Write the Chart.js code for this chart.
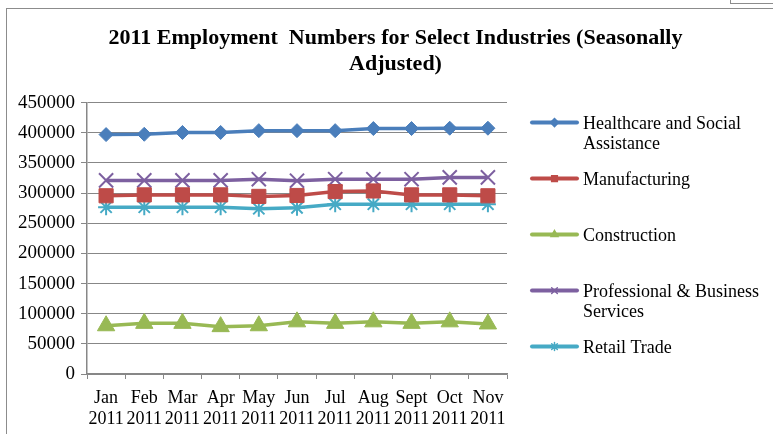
<!DOCTYPE html>
<html>
<head>
<meta charset="utf-8">
<script src="https://cdn.jsdelivr.net/npm/chart.js@4.4.1/dist/chart.umd.min.js"></script>
<style>
  html, body { margin: 0; padding: 0; background: #fff; }
  #wrap { position: relative; width: 773px; height: 436px; overflow: hidden; }
  #frame { position: absolute; left: 6px; top: 8px; width: 800px; height: 425px;
           border-left: 1px solid #8c8c8c; border-top: 1px solid #8c8c8c; }
  #corner { position: absolute; left: 730px; top: -2px; width: 60px; height: 4px;
            border: 1px solid #8c8c8c; }
  canvas { position: absolute; left: 0; top: 0; }
</style>
</head>
<body>
<div id="wrap">
  <div id="frame"></div>
  <div id="corner"></div>
  <canvas id="employmentChart" width="773" height="436"></canvas>
</div>
<script>
// months along the x axis (two lines each)
const months = [
  ['Jan', '2011'], ['Feb', '2011'], ['Mar', '2011'], ['Apr', '2011'],
  ['May', '2011'], ['Jun', '2011'], ['Jul', '2011'], ['Aug', '2011'],
  ['Sept', '2011'], ['Oct', '2011'], ['Nov', '2011']
];

const seriesNames = [
  'Healthcare and Social Assistance',
  'Manufacturing',
  'Construction',
  'Professional & Business Services',
  'Retail Trade'
];

// values
const healthcare = [397000, 397500, 400500, 400500, 403500, 403500, 403500, 407000, 407000, 407500, 407500];
const manufacturing = [295500, 297000, 297000, 297000, 294500, 296000, 302500, 303500, 297000, 297000, 295500];
const construction = [80000, 84000, 84000, 78500, 80000, 86500, 84000, 86500, 84000, 86500, 83000];
const professional = [321000, 321000, 321000, 321000, 323000, 320500, 323000, 323000, 323000, 326000, 326000];
const retail = [276500, 276500, 276500, 276500, 274000, 275500, 281500, 281500, 281500, 281500, 281500];

const yTicks = [0, 50000, 100000, 150000, 200000, 250000, 300000, 350000, 400000, 450000];

const colors = ['#4a7ebb', '#be4b48', '#98b954', '#7d60a0', '#46aac5'];
const pointStyles = ['rectRot', 'rect', 'triangle', 'crossRot', 'star'];
const pointSizes = [7, 10, 10, 10, 8];
const seriesData = [healthcare, manufacturing, construction, professional, retail];

const serif = '"Liberation Serif", "Times New Roman", serif';

// legend on the right, reserved as a layout box
const sideLegend = {
  id: 'sideLegend',
  beforeInit(chart) {
    const box = {
      position: 'right',
      weight: 10,
      fullSize: false,
      options: {},
      left: 0, top: 0, right: 0, bottom: 0, width: 0, height: 0,
      isHorizontal() { return false; },
      getPadding() { return { top: 0, left: 0, right: 0, bottom: 0 }; },
      update(maxWidth, maxHeight) { this.width = 266; this.height = maxHeight; },
      draw() {
        const ctx = chart.ctx;
        const area = chart.chartArea;
        ctx.save();
        ctx.font = '18px ' + serif;
        ctx.fillStyle = '#000';
        ctx.textBaseline = 'middle';
        ctx.textAlign = 'left';
        chart.data.datasets.forEach((ds, i) => {
          const y = area.top + 20 + i * 56;
          const x0 = this.left + 25;
          const x1 = this.left + 70;
          ctx.strokeStyle = ds.borderColor;
          ctx.lineWidth = 4;
          ctx.lineCap = 'round';
          ctx.beginPath();
          ctx.moveTo(x0, y);
          ctx.lineTo(x1, y);
          ctx.stroke();
          if (Chart.helpers && Chart.helpers.drawPoint) {
            ctx.fillStyle = ds.pointBackgroundColor;
            ctx.strokeStyle = ds.pointBorderColor;
            ctx.lineWidth = 1.5;
            Chart.helpers.drawPoint(ctx, { pointStyle: ds.pointStyle, radius: 4, rotation: 0, borderWidth: 1.5 }, (x0 + x1) / 2, y);
          }
          ctx.fillStyle = '#000';
          const words = ds.label.split(' ');
          const lines = [];
          let cur = '';
          words.forEach(w => {
            const test = cur ? cur + ' ' + w : w;
            if (ctx.measureText(test).width > 182 && cur) { lines.push(cur); cur = w; }
            else cur = test;
          });
          lines.push(cur);
          lines.forEach((ln, k) => ctx.fillText(ln, this.left + 76, y + 1.5 + k * 20));
        });
        ctx.restore();
      }
    };
    Chart.layouts.addBox(chart, box);
  }
};

const ctx = document.getElementById('employmentChart').getContext('2d');
const employmentChart = new Chart(ctx, {
  type: 'line',
  data: {
    labels: months,
    datasets: seriesNames.map((name, i) => ({
      label: name,
      data: seriesData[i],
      borderColor: colors[i],
      backgroundColor: colors[i],
      pointBackgroundColor: colors[i],
      pointBorderColor: colors[i],
      pointStyle: pointStyles[i],
      pointRadius: pointSizes[i],
      pointHoverRadius: pointSizes[i],
      pointBorderWidth: (i >= 3) ? 2 : 1,
      borderWidth: 3.5,
      tension: 0,
      fill: false
    }))
  },
  options: {
    responsive: false,
    animation: false,
    layout: { padding: { left: 18, right: 0, top: 0, bottom: 0 } },
    plugins: {
      legend: { display: false },
      tooltip: { enabled: false },
      title: {
        display: true,
        text: ['2011 Employment  Numbers for Select Industries (Seasonally', 'Adjusted)'],
        color: '#000',
        font: { family: serif, size: 22, weight: 'bold', lineHeight: 1.15 },
        padding: { top: 26, bottom: 26 }
      }
    },
    scales: {
      x: {
        offset: true,
        grid: {
          offset: true,
          drawOnChartArea: false,
          drawTicks: true,
          tickLength: 5,
          color: '#878787'
        },
        border: { color: '#878787', width: 1.5 },
        ticks: {
          color: '#000',
          maxRotation: 0,
          autoSkip: false,
          padding: 9,
          font: { family: serif, size: 18, lineHeight: 1.17 }
        },
        afterFit(scale) { scale.height = 62; }
      },
      y: {
        min: 0,
        max: 450000,
        afterBuildTicks(scale) { scale.ticks = yTicks.map(v => ({ value: v })); },
        grid: { color: '#878787', tickLength: 6, lineWidth: 1 },
        border: { color: '#878787', width: 1.5 },
        ticks: {
          color: '#000',
          padding: 6,
          font: { family: serif, size: 19 },
          callback: v => String(v)
        },
        afterFit(scale) { scale.width = 69; }
      }
    }
  },
  plugins: [sideLegend]
});
</script>
</body>
</html>
